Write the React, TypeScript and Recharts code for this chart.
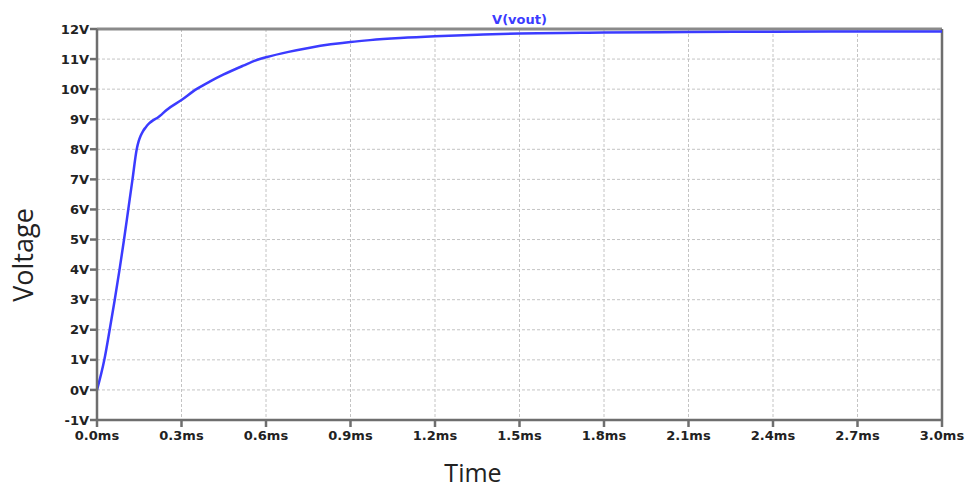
import React from "react";
import { CartesianGrid, Line, LineChart, ReferenceLine, XAxis, YAxis } from "recharts";

// transient response of V(vout), time in ms, voltage in V
const timeMs = [
  0, 0.026, 0.045, 0.063, 0.08, 0.096, 0.111, 0.126, 0.141, 0.148, 0.155, 0.163, 0.172, 0.185, 0.2, 0.215,
  0.23, 0.246, 0.3, 0.353, 0.4, 0.448, 0.519, 0.567, 0.6, 0.68, 0.756, 0.83, 0.9, 0.969, 1.076, 1.2, 1.35,
  1.5, 1.8, 2.1, 2.4, 2.7, 3.0,
];
const vout = [
  0, 1, 2, 3, 4, 5, 6, 7, 8, 8.27, 8.45, 8.6, 8.72, 8.86, 8.97, 9.05,
  9.16, 9.3, 9.64, 10.0, 10.25, 10.48, 10.78, 10.97, 11.06, 11.24, 11.38, 11.49, 11.57, 11.63, 11.7, 11.76, 11.81,
  11.85, 11.88, 11.9, 11.91, 11.92, 11.92,
];
const xTicks = [0, 0.3, 0.6, 0.9, 1.2, 1.5, 1.8, 2.1, 2.4, 2.7, 3.0];
const yTicks = [-1, 0, 1, 2, 3, 4, 5, 6, 7, 8, 9, 10, 11, 12];

const data = timeMs.map((t, i) => ({ t, v: vout[i] }));

const axisColor = "#6e6e6e";
const tickStyle = { fontSize: 13, fontWeight: 700, fill: "#222", fontFamily: "DejaVu Sans, Verdana, sans-serif" };

export default function App() {
  return (
    <div style={{ position: "absolute", left: 0, top: 0, background: "#fff" }}>
      <LineChart width={968} height={489} data={data} margin={{ top: 29, right: 26, left: 0, bottom: 0 }}>
        <CartesianGrid stroke="#c4c4c4" strokeDasharray="3 2" />
        <XAxis
          dataKey="t"
          type="number"
          domain={[0, 3]}
          ticks={xTicks}
          tickFormatter={(v: number) => v.toFixed(1) + "ms"}
          height={69}
          stroke={axisColor}
          strokeWidth={2.5}
          tickSize={7}
          tickMargin={4}
          tick={tickStyle}
          interval={0}
          label={{
            position: "insideBottom",
            content: () => (
              <text x={473} y={482} textAnchor="middle" fontSize={25} fill="#222" fontFamily="Open Sans, sans-serif">
                Time
              </text>
            ),
          }}
        />
        <YAxis
          type="number"
          domain={[-1, 12]}
          ticks={yTicks}
          tickFormatter={(v: number) => v + "V"}
          width={97}
          stroke={axisColor}
          strokeWidth={2.5}
          tickSize={7}
          tickMargin={1}
          tick={tickStyle}
          interval={0}
          label={{
            position: "insideLeft",
            content: () => (
              <text
                x={33}
                y={255}
                transform="rotate(-90, 33, 255)"
                textAnchor="middle"
                fontSize={27}
                fill="#222"
                fontFamily="Open Sans, sans-serif"
              >
                Voltage
              </text>
            ),
          }}
        />
        <ReferenceLine
          y={12}
          stroke="#8a8a8a"
          strokeWidth={3}
          label={{ value: "V(vout)", position: "top", offset: 5, fill: "#3b3bff", fontSize: 13, fontWeight: 700, fontFamily: "DejaVu Sans, Verdana, sans-serif" }}
        />
        <ReferenceLine x={3} stroke={axisColor} strokeWidth={2.5} />
        <Line
          type="monotone"
          dataKey="v"
          stroke="#3b3bff"
          strokeWidth={2.5}
          dot={false}
          isAnimationActive={false}
        />
      </LineChart>
    </div>
  );
}
